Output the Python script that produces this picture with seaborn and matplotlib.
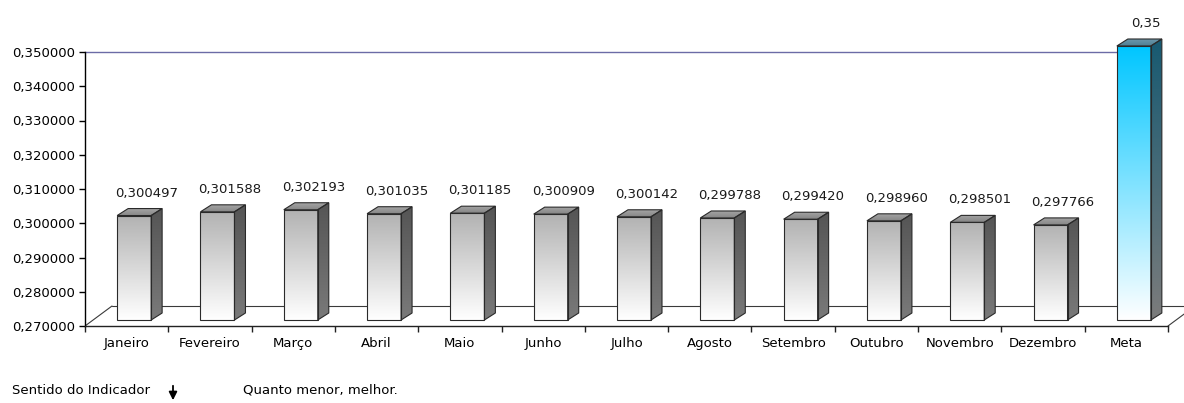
import numpy as np
import pandas as pd
import matplotlib
matplotlib.use('Agg')
import matplotlib.pyplot as plt
import seaborn as sns
from matplotlib.patches import Polygon
from matplotlib.colors import LinearSegmentedColormap

meses = ['Janeiro', 'Fevereiro', 'Março', 'Abril', 'Maio', 'Junho', 'Julho',
         'Agosto', 'Setembro', 'Outubro', 'Novembro', 'Dezembro', 'Meta']
valores = [0.300497, 0.301588, 0.302193, 0.301035, 0.301185, 0.300909, 0.300142,
           0.299788, 0.299420, 0.298960, 0.298501, 0.297766, 0.35]
rotulos = ['0,300497', '0,301588', '0,302193', '0,301035', '0,301185', '0,300909',
           '0,300142', '0,299788', '0,299420', '0,298960', '0,298501', '0,297766', '0,35']
yticks = [0.27, 0.28, 0.29, 0.30, 0.31, 0.32, 0.33, 0.34, 0.35]

W, H = 1184, 403
BASE = 0.27
FS = 9.5
# pixel scale of the plot area
PX = 13 / 1083.0      # categories per pixel
PY = 0.01 / 34.25     # value per pixel


def gradiente(ax, clip, extent, c_top, c_bot, z):
    cmap = LinearSegmentedColormap.from_list('g', [c_bot, c_top])
    grad = np.linspace(0, 1, 256).reshape(-1, 1)
    im = ax.imshow(grad, extent=extent, origin='lower', aspect='auto',
                   cmap=cmap, zorder=z, interpolation='bilinear')
    im.set_clip_path(clip)
    return im


def main():
    sns.set_style('white')
    plt.rcParams['font.family'] = ['DejaVu Sans']
    plt.rcParams['font.size'] = FS

    fig = plt.figure(figsize=(W / 100, H / 100), dpi=100)
    y_top = 0.36
    ax_h = (y_top - BASE) / PY
    ax = fig.add_axes([85 / W, 77 / H, 1083 / W, ax_h / H])

    df = pd.DataFrame({'mes': meses, 'valor': valores})
    sns.barplot(data=df, x='mes', y='valor', width=34 * PX, color='white',
                edgecolor='#2a2a2a', linewidth=0.8, errorbar=None, ax=ax)

    ox, oy = 7.5 * PX, 6 * PY      # bar sits inside the floor
    dx, dy = 11 * PX, 7 * PY       # bar depth
    for i, (p, v) in enumerate(zip(ax.patches, valores)):
        p.set_x(p.get_x() + ox)
        p.set_y(BASE + oy)
        p.set_height(v - BASE)
        p.set_facecolor('none')
        p.set_zorder(5)
        x0, x1 = p.get_x(), p.get_x() + p.get_width()
        y0, y1 = BASE + oy, v + oy
        meta = meses[i] == 'Meta'
        if meta:
            cf = ('#00c6ff', '#ffffff')
            cs = ('#175a72', '#7c7c7c')
            ct = ('#6c97aa', '#4f7f94')
        else:
            cf = ('#b2b2b2', '#ffffff')
            cs = ('#555555', '#7a7a7a')
            ct = ('#a4a4a4', '#858585')
        gradiente(ax, p, [x0, x1, y0, y1], cf[0], cf[1], 4)
        lado = Polygon([(x1, y0), (x1 + dx, y0 + dy), (x1 + dx, y1 + dy), (x1, y1)],
                       closed=True, facecolor='none', edgecolor='#2a2a2a', lw=0.8, zorder=5)
        ax.add_patch(lado)
        gradiente(ax, lado, [x1, x1 + dx, y0, y1 + dy], cs[0], cs[1], 4)
        topo = Polygon([(x0, y1), (x0 + dx, y1 + dy), (x1 + dx, y1 + dy), (x1, y1)],
                       closed=True, facecolor='none', edgecolor='#2a2a2a', lw=0.8, zorder=5)
        ax.add_patch(topo)
        gradiente(ax, topo, [x0, x1 + dx, y1, y1 + dy], ct[0], ct[1], 4)
        ax.annotate(rotulos[i], (i + 20 * PX, v), xytext=(0, 18), textcoords='offset points',
                    ha='center', va='baseline', fontsize=FS, color='#1a1a1a')

    # floor
    fx, fy = 27 * PX, 20 * PY
    ax.plot([-0.5, -0.5 + fx], [BASE, BASE + fy], color='#3a3a3a', lw=0.8, zorder=2)
    ax.plot([12.5, 12.5 + fx], [BASE, BASE + fy], color='#3a3a3a', lw=0.8, zorder=2, clip_on=False)
    ax.plot([-0.5 + fx, 12.5 + fx], [BASE + fy, BASE + fy], color='#3a3a3a', lw=0.8, zorder=2,
            clip_on=False)
    # back wall top line
    ax.plot([-0.5, 12.3], [0.35, 0.35], color='#6b6ba6', lw=1, zorder=2)

    ax.set_xlim(-0.5, 12.5)
    ax.set_ylim(BASE, y_top)
    ax.set_xlabel('')
    ax.set_ylabel('')
    for s in ['top', 'right']:
        ax.spines[s].set_visible(False)
    ax.spines['left'].set_bounds(BASE, 0.35)
    ax.spines['left'].set_color('black')
    ax.spines['bottom'].set_color('#222222')
    ax.spines['left'].set_linewidth(1)
    ax.spines['bottom'].set_linewidth(1)

    ax.set_yticks(yticks)
    ax.set_yticklabels([f'{t:.6f}'.replace('.', ',') for t in yticks])
    ax.tick_params(axis='y', left=True, length=4, width=1, pad=3, colors='black', labelsize=FS)
    ax.set_xticks(range(len(meses)))
    ax.set_xticklabels(meses)
    ax.set_xticks(np.arange(-0.5, 13, 1), minor=True)
    ax.tick_params(axis='x', which='major', length=0, pad=8, labelsize=FS, colors='black')
    ax.tick_params(axis='x', which='minor', bottom=True, length=4, width=1, color='#222222')
    ax.grid(False)

    fig.text(12 / W, 13 / H, 'Sentido do Indicador', fontsize=FS, va='center', color='black')
    fig.text(243 / W, 13 / H, 'Quanto menor, melhor.', fontsize=FS, va='center', color='black')
    ax.annotate('', xy=(173 / W, 0 / H), xytext=(173 / W, 20 / H), xycoords='figure fraction',
                arrowprops=dict(arrowstyle='-|>', color='black', lw=1.3, mutation_scale=12))

    fig.savefig('out.png', dpi=100)
    plt.close(fig)


if __name__ == '__main__':
    main()
